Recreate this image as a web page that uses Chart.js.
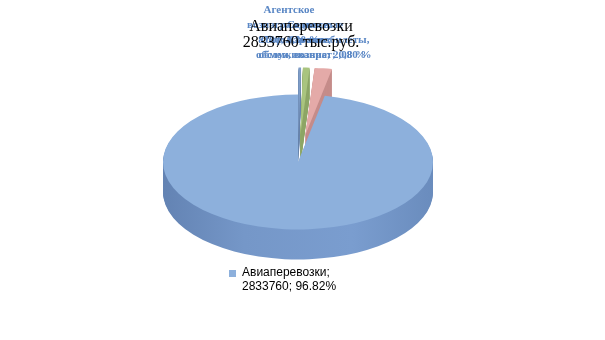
<!DOCTYPE html>
<html><head><meta charset="utf-8">
<script src="https://cdn.jsdelivr.net/npm/chart.js@4/dist/chart.umd.min.js"></script>
<style>html,body{margin:0;padding:0;background:#fff;}#wrap{width:605px;height:340px;}</style>
</head><body><div id="wrap"><canvas id="c" width="605" height="340"></canvas></div>
<script>
// ---- data ----
const categories = ["Агентское вознаграждение", "Сервисные сборы за авиабилеты, обмен, возврат", "Прочие услуги", "Авиаперевозки"];
const values = [8780, 23415, 60878, 2833760];
const percents = ["0,30 %", "0,80 %", "2,08 %", "96.82%"];
const titleLines = ["Авиаперевозки", "2833760 тыс.руб."];
// wrapped texts of the small-slice labels (printed overlapping, as in the source)
const smallLabelLines = [
  ["Агентское", "вознаграждение;", "8780; 0,30 %"],
  ["Сервисные", "сборы за авиабилеты,", "обмен, возврат; 0,80 %"],
  ["Прочие;", "обслуживание; 2,08 %"]
];
const mainLabelLines = ["Авиаперевозки;", "2833760; 96.82%"];

// ---- style ----
const topColors = ["#7f9dc8", "#a9c47f", "#e4aaa8", "#8db0dc"];
const sideColors = ["#6a86ad", "#8ea767", "#c58c8a", null];
const explode = [54, 54, 54, 0];
const TILT = 0.5;
const DEPTH = 30;

const pie3d = {
  id: 'pie3d',
  beforeDatasetsDraw(chart) {
    const meta = chart.getDatasetMeta(0);
    const ctx = chart.ctx;
    const main = meta.data[3];
    const cx = main.x, cy = main.y, R = main.outerRadius;
    ctx.save();
    ctx.translate(cx, cy); ctx.scale(1, TILT); ctx.translate(-cx, -cy);
    const g = ctx.createLinearGradient(cx - R, 0, cx + R, 0);
    g.addColorStop(0, '#6383b3');
    g.addColorStop(0.3, '#7597c8');
    g.addColorStop(0.7, '#7a9dcf');
    g.addColorStop(1, '#6a8cbd');
    const shift = (el, i) => {
      const h = (el.startAngle + el.endAngle) / 2;
      return [Math.cos(h) * explode[i], Math.sin(h) * explode[i]];
    };
    // side walls
    for (let k = DEPTH; k >= 1; k--) {
      meta.data.forEach((el, i) => {
        const o = el.options;
        const bg = o.backgroundColor;
        o.backgroundColor = sideColors[i] || g;
        const [dx, dy] = shift(el, i);
        ctx.save();
        ctx.translate(dx, dy + k / TILT);
        el.draw(ctx);
        ctx.restore();
        o.backgroundColor = bg;
      });
    }
    // top faces
    meta.data.forEach((el, i) => {
      const [dx, dy] = shift(el, i);
      ctx.save();
      ctx.translate(dx, dy);
      el.draw(ctx);
      ctx.restore();
    });
    ctx.restore();
    return false;
  },
  afterDraw(chart) {
    const ctx = chart.ctx;
    ctx.save();
    // small slice labels
    ctx.fillStyle = '#5a87c5';
    ctx.font = 'bold 11px "Liberation Serif"';
    ctx.textAlign = 'center';
    const pos = [[289, 13], [315, 28], [311, 43]];
    smallLabelLines.forEach((lines, i) => {
      lines.forEach((t, j) => ctx.fillText(t, pos[i][0], pos[i][1] + j * 15));
    });
    // title
    ctx.fillStyle = '#000';
    ctx.font = '16px "Liberation Serif"';
    ctx.fillText(titleLines[0], 301, 31);
    ctx.fillText(titleLines[1], 301, 47);
    // main label
    ctx.textAlign = 'left';
    ctx.fillStyle = topColors[3];
    ctx.fillRect(229, 270, 7, 7);
    ctx.fillStyle = '#000';
    ctx.font = '12px "Liberation Sans"';
    ctx.fillText(mainLabelLines[0], 242, 276);
    ctx.fillText(mainLabelLines[1], 242, 290);
    ctx.restore();
  }
};

new Chart(document.getElementById('c'), {
  type: 'pie',
  data: {
    labels: categories,
    datasets: [{
      data: values,
      backgroundColor: topColors,
      borderWidth: 0,
      radius: 135,
      clip: false
    }]
  },
  options: {
    responsive: false,
    animation: false,
    layout: { padding: { top: 27, bottom: 43, left: 0, right: 9 } },
    plugins: { legend: { display: false }, tooltip: { enabled: false } }
  },
  plugins: [pie3d]
});
</script>
</body></html>
